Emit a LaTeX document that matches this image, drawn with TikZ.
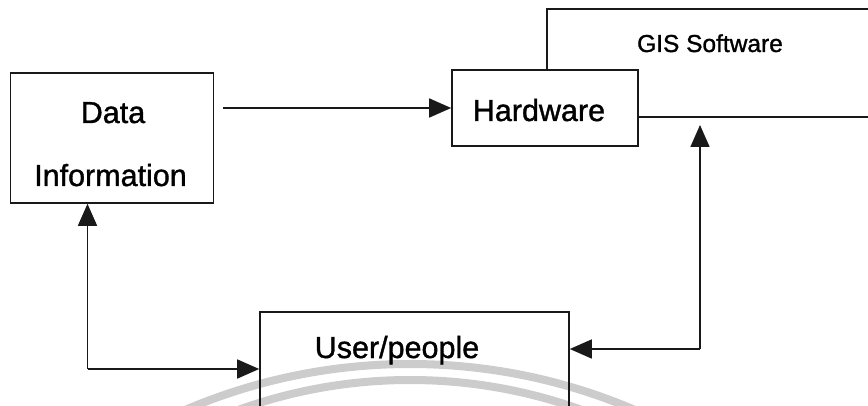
\documentclass[tikz,border=0pt]{standalone}
\usepackage{fontspec}
\setmainfont{Liberation Sans}
\newfontfamily\diagfont{Liberation Sans}[FakeBold=1.2]
\usetikzlibrary{arrows.meta}

\tikzset{
  box/.style={draw=black!90, line width=1.6pt, inner sep=0pt, fill=none},
  wire/.style={draw=black!90, line width=1.6pt},
  arr/.style={wire, -{Triangle[length=22pt,width=19pt]}},
  bigtext/.style={inner sep=0pt, anchor=base, font=\diagfont\fontsize{30.5}{36}\selectfont},
  smalltext/.style={inner sep=0pt, anchor=base, font=\diagfont\fontsize{24.5}{29}\selectfont},
  stamp/.style={draw=black!20, line width=8pt}
}

\begin{document}
\begin{tikzpicture}[x=1pt, y=-1pt]
  \useasboundingbox[fill=white] (0,0) rectangle (868,406);

  % faint circular stamp arcs behind the diagram
  \begin{scope}
    \clip (0,0) rectangle (868,406);
    \draw[stamp] (410,935) circle[radius=571];
    \draw[stamp] (410,885) circle[radius=505];
  \end{scope}

  % boxes
  \node[box, minimum width=203pt, minimum height=130pt] (data) at (112,138) {};
  \node[box, minimum width=186pt, minimum height=76pt]  (hw)   at (545,108) {};
  \node[box, minimum width=309pt, minimum height=112pt] (user) at (414.5,368) {};

  % labels
  \node[bigtext]   (ldata) at (113,123) {Data};
  \node[bigtext]   (linfo) at (110.5,186) {Information};
  \node[bigtext]   (lhw)   at (539,121) {Hardware};
  \node[smalltext] (lgis)  at (710,52) {GIS Software};
  \node[bigtext]   (luser) at (397,358) {User/people};

  % GIS software bracket around the hardware box
  \coordinate (gisTop) at (547,9);
  \coordinate (gisEndTop) at (870,9);
  \coordinate (gisLow) at (638,117);
  \coordinate (gisEndLow) at (870,117);
  \draw[wire] (hw.north -| gisTop) -- (gisTop) -- (gisEndTop);
  \draw[wire] (gisLow) -- (gisEndLow);

  % data -> hardware
  \coordinate (dstart) at (223,108);
  \draw[arr] (dstart) -- (hw.west |- dstart);

  % user <-> data loop
  \coordinate (lc) at (87.5,369);
  \draw[arr] (lc) -- (data.south -| lc);
  \draw[arr] (lc) -- (user.west |- lc);

  % user <-> hardware loop
  \coordinate (rc) at (700,349);
  \coordinate (hwtip) at (700,125);
  \draw[arr] (rc) -- (hwtip);
  \draw[arr] (rc) -- (user.east |- rc);
\end{tikzpicture}
\end{document}
